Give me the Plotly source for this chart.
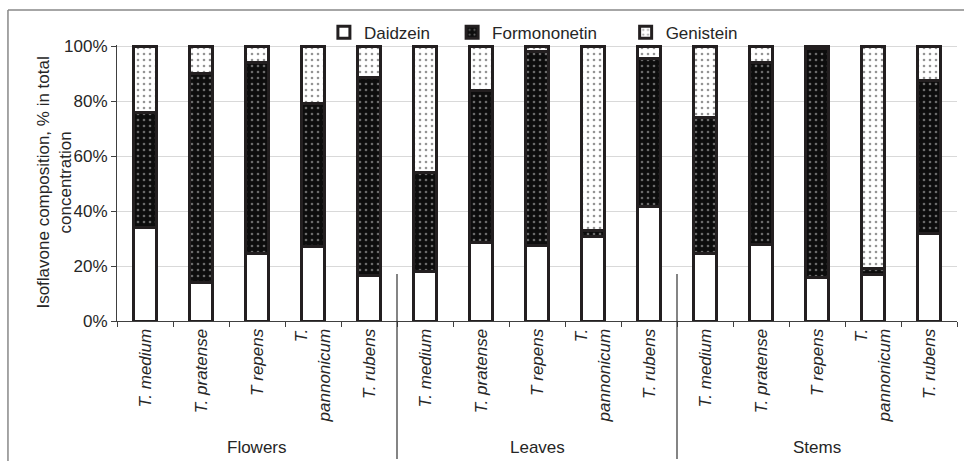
import plotly.graph_objects as go

groups = ["Flowers", "Leaves", "Stems"]
species = ["T. medium", "T. pratense", "T repens", "T.<br>pannonicum", "T. rubens"]
tick_labels = [f"<i>{s}</i>" for g in groups for s in species]

daidzein = [34, 14, 24.5, 27, 16.7, 18, 28.5, 27.5, 30.8, 41.5, 24.5, 28, 16, 17, 32]
formononetin = [42, 76, 69.5, 52, 71.7, 36, 55.5, 70.5, 2, 54, 49.5, 66, 83, 2.2, 55.5]
genistein = [24, 10, 6, 21, 11.6, 46, 16, 2, 67.2, 4.5, 26, 6, 1, 80.8, 12.5]

x = list(range(len(tick_labels)))
FONT = "Liberation Sans, Arial, sans-serif"
FS = 17
TXT = "#262626"
EDGE = "#231f20"

fig = go.Figure()
specs = [
    ("Daidzein", daidzein, dict(bgcolor="white", fgcolor="white", shape=""), "legend"),
    ("Formononetin", formononetin, dict(shape=".", bgcolor="#0d0d0d", fgcolor="#c8c8c8", size=6, solidity=0.15), "legend2"),
    ("Genistein", genistein, dict(shape=".", bgcolor="white", fgcolor="#2a2a2a", size=6, solidity=0.15), "legend3"),
]
for name, vals, pat, lg in specs:
    fig.add_trace(go.Bar(
        x=x, y=[v / 100 for v in vals], name=name, width=0.42,
        marker=dict(color=pat["bgcolor"], line=dict(color=EDGE, width=3), pattern=pat),
        legend=lg,
    ))

leg = dict(orientation="h", xref="container", yref="container", y=0.968, xanchor="left", yanchor="top",
           font=dict(size=FS, color=TXT), itemwidth=30, bgcolor="rgba(0,0,0,0)")
fig.update_layout(
    barmode="stack",
    width=964, height=461,
    margin=dict(l=117, r=7, t=45, b=140, autoexpand=False),
    paper_bgcolor="white", plot_bgcolor="white",
    font=dict(family=FONT, size=FS, color=TXT),
    legend=dict(leg, x=0.336),
    legend2=dict(leg, x=0.469),
    legend3=dict(leg, x=0.649),
    showlegend=True,
)
fig.update_yaxes(
    range=[0, 1.004], tickvals=[0, 0.2, 0.4, 0.6, 0.8, 1.0], tickformat=".0%",
    showgrid=True, gridcolor="#d9d9d9", gridwidth=1,
    showline=True, linecolor="#404040", linewidth=1,
    ticks="outside", ticklen=5, tickcolor="#404040",
    tickfont=dict(size=FS, color=TXT), zeroline=False, automargin=False,
)
fig.update_xaxes(
    range=[-0.5, len(x) - 0.5], tickvals=x, ticktext=tick_labels, tickangle=-90,
    ticks="", showline=True, linecolor="#404040", linewidth=1,
    tickfont=dict(size=FS, color=TXT), showgrid=False, zeroline=False, automargin=False,
    minor=dict(tickvals=[i - 0.5 for i in range(len(x) + 1)], ticks="outside", ticklen=5, tickcolor="#404040"),
)

# group labels and separators
for i, g in enumerate(groups):
    fig.add_annotation(x=i * 5 + 2, y=-0.46, xref="x", yref="paper", text=g, showarrow=False,
                       font=dict(size=FS, color=TXT), yanchor="middle")
for b in [4.5, 9.5]:
    fig.add_shape(type="line", xref="x", yref="paper", x0=b, x1=b, y0=0.17, y1=-0.5,
                  line=dict(color="#333333", width=1.2))

# y-axis title
fig.add_annotation(x=-0.0755, y=0.5, xref="paper", yref="paper", textangle=-90, showarrow=False,
                   text="Isoflavone composition, % in total<br>concentration",
                   font=dict(size=FS, color=TXT), xanchor="center", yanchor="middle")

# outer frame (top & left edges)
fig.add_shape(type="line", xref="paper", yref="paper", x0=-0.1298, x1=1.01, y0=1.127, y1=1.127,
              line=dict(color="#888888", width=1.5))
fig.add_shape(type="line", xref="paper", yref="paper", x0=-0.1298, x1=-0.1298, y0=1.127, y1=-0.6,
              line=dict(color="#888888", width=1.5))

fig.write_html("out.html", config={"displayModeBar": False},
               post_script="document.body.style.margin='0';document.body.style.overflow='hidden';")
